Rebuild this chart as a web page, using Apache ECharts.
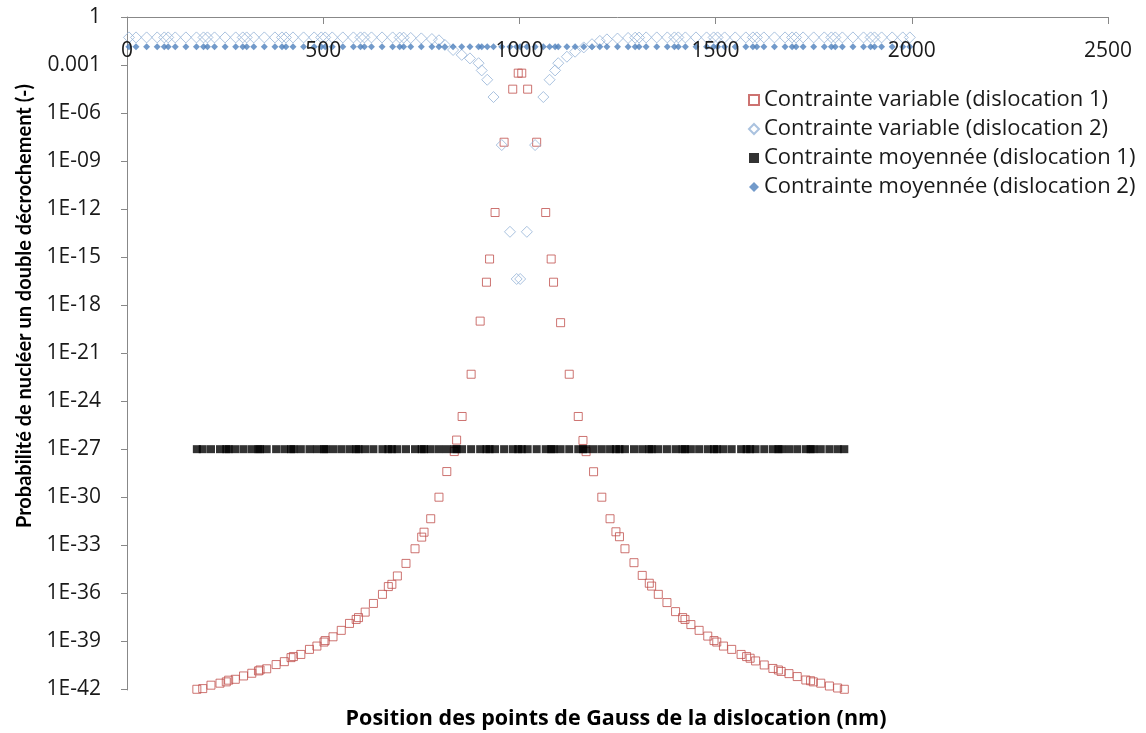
<!DOCTYPE html>
<html><head><meta charset="utf-8">
<script src="https://cdn.jsdelivr.net/npm/echarts@6/dist/echarts.min.js"></script>
<style>html,body{margin:0;padding:0;background:#fff}#c{width:1146px;height:733px}</style>
</head><body><div id="c"></div>
<script>
// ---------- data ----------
const seriesNames = [
  'Contrainte variable (dislocation 1)',
  'Contrainte variable (dislocation 2)',
  'Contrainte moyennée (dislocation 1)',
  'Contrainte moyennée (dislocation 2)'
];
const xAxisTitle = 'Position des points de Gauss de la dislocation (nm)';
const yAxisTitle = 'Probabilité de nucléer un double décrochement (-)';
const xTickLabels = ['0','500','1000','1500','2000','2500'];
const yTickValues = [1e-42,1e-39,1e-36,1e-33,1e-30,1e-27,1e-24,1e-21,1e-18,1e-15,1e-12,1e-9,1e-6,1e-3,1];
const yTickLabels = ['1E-42','1E-39','1E-36','1E-33','1E-30','1E-27','1E-24','1E-21','1E-18','1E-15','1E-12','1E-09','1E-06','0.001','1'];

// Gauss point positions, dislocation 1 (nm)
const x1 = [178,193,214,237,253,259,276,297,318,335,339,356,380,401,418,424,443,465,484,502,
  505,525,546,567,584,590,607,628,651,666,675,689,711,734,751,757,774,795,815,834,
  840,854,877,900,916,924,938,961,983,997,1006,
  1021,1044,1067,1081,1087,1105,1127,1150,1162,1170,1189,1210,1231,1246,1255,1269,1292,1313,1331,1337,
  1354,1376,1398,1416,1422,1437,1458,1480,1496,1503,1520,1541,1565,1579,1588,1602,1624,1646,1660,1667,
  1687,1708,1730,1742,1749,1768,1790,1811,1828];
// Contrainte variable (dislocation 1)
const y1 = [1.0e-42,1.1e-42,1.8e-42,2.4e-42,2.9e-42,3.7e-42,4.2e-42,6.8e-42,1.0e-41,1.4e-41,
  1.6e-41,1.9e-41,3.5e-41,5.3e-41,9.5e-41,1.1e-40,1.5e-40,3.1e-40,5.0e-40,8.9e-40,
  1.1e-39,1.9e-39,4.8e-39,1.3e-38,2.3e-38,3.0e-38,6.6e-38,2.3e-37,8.5e-37,2.6e-36,
  3.6e-36,1.2e-35,7.3e-35,6.0e-34,3.2e-33,6.5e-33,4.5e-32,1.0e-30,4.0e-29,7.1e-28,
  3.7e-27,1.1e-25,4.8e-23,1.0e-19,2.7e-17,7.6e-16,6.1e-13,1.5e-8,3.1e-5,3.1e-4,3.1e-4,
  3.1e-5,1.5e-8,6.1e-13,7.6e-16,2.7e-17,8.0e-20,4.8e-23,1.1e-25,3.5e-27,7.0e-28,
  3.9e-29,1.0e-30,4.5e-32,6.9e-33,3.4e-33,6.0e-34,8.1e-35,1.3e-35,4.2e-36,2.8e-36,
  8.5e-37,2.6e-37,7.1e-38,3.0e-38,2.3e-38,1.1e-38,4.8e-39,2.1e-39,1.1e-39,8.9e-40,
  5.0e-40,3.1e-40,1.5e-40,1.1e-40,8.7e-41,5.9e-41,3.3e-41,2.0e-41,1.6e-41,1.3e-41,
  9.5e-42,6.2e-42,3.8e-42,3.4e-42,2.9e-42,2.4e-42,1.6e-42,1.2e-42,1.0e-42];

// Gauss point positions, dislocation 2 (nm)
const x2 = [5,23,50,77,95,105,123,150,177,195,205,223,250,277,295,305,323,350,377,395,
  405,423,450,477,495,505,523,550,577,595,605,623,650,677,695,705,723,750,777,795,
  810,831,853,874,896,904,918,934,955,976,993,1002,1019,1040,1061,1077,1091,1099,1121,1142,1164,1185,
  1205,1223,1250,1277,1295,1305,1323,1350,1377,1395,1405,1423,1450,1477,1495,1505,1523,1550,1577,1595,
  1605,1623,1650,1677,1695,1705,1723,1750,1777,1795,1805,1823,1850,1877,1895,1905,1923,1950,1977,1995];
// Contrainte variable (dislocation 2)
const y2 = [0.053,0.053,0.053,0.053,0.053,0.053,0.053,0.053,0.053,0.053,
  0.053,0.053,0.053,0.053,0.053,0.053,0.053,0.053,0.053,0.053,
  0.053,0.053,0.053,0.053,0.053,0.053,0.053,0.053,0.053,0.053,
  0.053,0.053,0.053,0.053,0.052,0.051,0.049,0.046,0.042,0.035,
  0.018,0.0087,0.0043,0.0026,0.0013,4.6e-4,1.2e-4,1.0e-5,1.0e-8,3.8e-14,4.3e-17,
  4.3e-17,3.8e-14,1.0e-8,1.0e-5,1.2e-4,4.6e-4,0.0013,0.0033,0.0068,0.0126,0.020,
  0.032,0.040,0.045,0.049,0.051,0.052,0.053,0.053,0.053,0.053,
  0.053,0.053,0.053,0.053,0.053,0.053,0.053,0.053,0.053,0.053,
  0.053,0.053,0.053,0.053,0.053,0.053,0.053,0.053,0.053,0.053,
  0.053,0.053,0.053,0.053,0.053,0.053,0.053,0.053,0.053,0.053];
// Contrainte moyennée (dislocation 1) – constant level
const y3Level = 1.0e-27;
// Contrainte moyennée (dislocation 2) – constant level
const y4Level = 0.014;

// ---------- build ----------
const d1 = x1.map((x, i) => [x, y1[i]]);
const d2 = x2.map((x, i) => [x, y2[i]]);
const d3 = x1.map(x => [x, y3Level]);
const d4 = x2.map(x => [x, y4Level]);

function yLabel(v) {
  if (v > 0) {
    const k = (Math.log10(v) + 42) / 3;
    const r = Math.round(k);
    if (Math.abs(k - r) < 1e-4 && yTickLabels[r] !== undefined) return yTickLabels[r];
  }
  return '';
}

const FONT = '"Open Sans"';
const chart = echarts.init(document.getElementById('c'), null, {renderer: 'canvas'});
chart.setOption({
  animation: false,
  backgroundColor: '#ffffff',
  grid: {left: 127, right: 38, top: 17, bottom: 43, containLabel: false, outerBoundsMode: 'none'},
  xAxis: {
    type: 'value', position: 'top', min: 0, max: 2500, interval: 500, z: 10,
    axisLine: {show: true, onZero: false, lineStyle: {color: '#888888', width: 1}},
    axisTick: {show: true, inside: true, length: 7, lineStyle: {color: '#888888'}},
    axisLabel: {inside: true, margin: 24, fontFamily: FONT, fontSize: 21, color: '#1a1a1a',
      showMinLabel: true, showMaxLabel: true,
      formatter: v => {
        const s = xTickLabels[Math.round(v / 500)];
        return s === undefined ? '' : s;
      }},
    splitLine: {show: false}
  },
  yAxis: {
    // lower bound a hair below 1E-42 (under 1 px) so the 1E-42 tick survives log rounding
    type: 'log', logBase: 10, min: 9e-43, max: 1, interval: 3,
    axisLine: {show: true, lineStyle: {color: '#888888', width: 1}},
    axisTick: {show: true, inside: false, length: 6, lineStyle: {color: '#888888'},
      customValues: yTickValues},
    axisLabel: {margin: 26, fontFamily: FONT, fontSize: 21, color: '#1a1a1a',
      showMinLabel: true, showMaxLabel: true, hideOverlap: false,
      customValues: yTickValues, formatter: yLabel},
    splitLine: {show: false}, minorTick: {show: false}
  },
  legend: {
    orient: 'vertical', left: 743, top: 84, itemWidth: 10, itemHeight: 10, itemGap: 7,
    textStyle: {fontFamily: FONT, fontSize: 22, color: '#1a1a1a'},
    data: seriesNames
  },
  graphic: [
    {type: 'text', x: 616, y: 719,
      style: {text: xAxisTitle, font: 'bold 21.5px "Open Sans"', fill: '#000',
        align: 'center', verticalAlign: 'middle', textAlign: 'center', textVerticalAlign: 'middle'}},
    {type: 'text', x: 25, y: 306, rotation: Math.PI / 2,
      style: {text: yAxisTitle, font: 'bold 20px Lato', fill: '#000',
        align: 'center', verticalAlign: 'middle', textAlign: 'center', textVerticalAlign: 'middle'}}
  ],
  series: [
    {name: seriesNames[0], type: 'scatter', data: d1, symbol: 'rect', symbolSize: 8, clip: false,
      itemStyle: {color: 'rgba(255,255,255,0)', borderColor: '#C0504D', borderWidth: 1}},
    {name: seriesNames[1], type: 'scatter', data: d2, symbol: 'diamond', symbolSize: 11, clip: false,
      itemStyle: {color: 'rgba(255,255,255,0)', borderColor: '#95B3D7', borderWidth: 1}},
    {name: seriesNames[2], type: 'scatter', data: d3, symbol: 'rect', symbolSize: 8, clip: false,
      itemStyle: {color: '#000000'}},
    {name: seriesNames[3], type: 'scatter', data: d4, symbol: 'diamond', symbolSize: 7, clip: false,
      itemStyle: {color: '#4F81BD'}}
  ]
});
</script></body></html>
